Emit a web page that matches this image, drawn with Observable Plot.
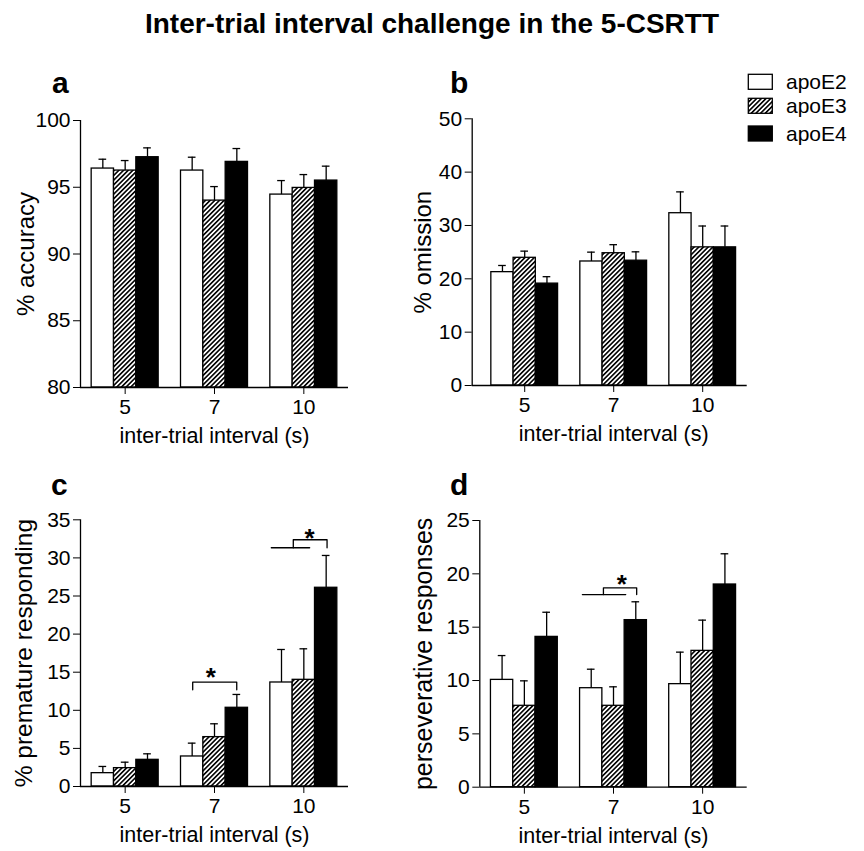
<!DOCTYPE html>
<html>
<head>
<meta charset="utf-8">
<script src="https://cdn.jsdelivr.net/npm/d3@7"></script>
<script src="https://cdn.jsdelivr.net/npm/@observablehq/plot@0.6"></script>
<style>
  html, body { margin: 0; padding: 0; background: #fff; }
  #root { position: relative; width: 864px; height: 851px; overflow: hidden; background: #fff;
          font-family: Arial, "Liberation Sans", Helvetica, sans-serif; }
  .panel { position: absolute; }
  #overlay { position: absolute; left: 0; top: 0; pointer-events: none; }
</style>
</head>
<body>
<svg width="0" height="0" style="position:absolute">
  <defs>
    <pattern id="hatch" patternUnits="userSpaceOnUse" width="3.3" height="3.3" patternTransform="rotate(-45)">
      <rect width="3.3" height="3.3" fill="white"></rect>
      <rect width="3.3" height="1.6" fill="black"></rect>
    </pattern>
  </defs>
</svg>
<div id="root"></div>
<script>
// ---------------- data ----------------
const intervals = ["5", "7", "10"];
const genotypes = ["apoE2", "apoE3", "apoE4"];

// rows: apoE2, apoE3, apoE4 ; columns: ITI 5, 7, 10 s
const accuracyMean = [[96.4, 96.25, 94.45], [96.25, 94.0, 94.95], [97.25, 96.9, 95.5]];
const accuracySem  = [[0.7, 1.0, 1.05], [0.75, 1.05, 1.0], [0.7, 1.0, 1.08]];

const omissionMean = [[21.25, 23.25, 32.3], [23.94, 24.8, 25.9], [19.1, 23.4, 25.9]];
const omissionSem  = [[1.25, 1.75, 4.0], [1.25, 1.6, 4.0], [1.3, 1.66, 4.0]];

const prematureMean = [[1.75, 3.94, 13.65], [2.41, 6.48, 14.0], [3.5, 10.33, 26.08]];
const prematureSem  = [[0.88, 1.75, 4.33], [0.78, 1.75, 4.07], [0.79, 1.75, 4.24]];

const persevMean = [[10.06, 9.28, 9.66], [7.63, 7.63, 12.78], [14.09, 15.66, 19.0]];
const persevSem  = [[2.28, 1.78, 3.0], [2.34, 1.78, 2.88], [2.31, 1.72, 2.88]];

const accuracyTicks = [80, 85, 90, 95, 100];
const omissionTicks = [0, 10, 20, 30, 40, 50];
const prematureTicks = [0, 5, 10, 15, 20, 25, 30, 35];
const persevTicks = [0, 5, 10, 15, 20, 25];

// significance brackets (x in interval-index units, y in data units)
const prematureBrackets = [
  {id: "c7", pts: [[0.756, 12.69], [0.756, 13.69], [1.249, 13.69], [1.249, 12.69]]},
  {id: "c10a", pts: [[1.636, 31.33], [2.065, 31.33]]},
  {id: "c10b", pts: [[1.882, 31.33], [1.882, 32.38], [2.26, 32.38], [2.26, 31.33]]}
];
const prematureStars = [{x: 0.96, y: 15.2}, {x: 2.065, y: 33.5}];
const persevBrackets = [
  {id: "d7a", pts: [[0.651, 18.06], [1.137, 18.06]]},
  {id: "d7b", pts: [[0.887, 18.06], [0.887, 18.69], [1.26, 18.69], [1.26, 18.06]]}
];
const persevStars = [{x: 1.092, y: 19.6}];

// ---------------- drawing ----------------
const FONT = 'Arial, "Liberation Sans", Helvetica, sans-serif';
const BAR = 0.25;     // bar width as share of group step
const CAP = 0.043;    // half cap width
const fills = ["white", "url(#hatch)", "black"];

function rows(means, sems) {
  const out = [];
  genotypes.forEach((g, j) => intervals.forEach((iv, i) => {
    out.push({g, j, i, mean: means[j][i], top: means[j][i] + sems[j][i],
              x1: i + (j - 1.5) * BAR, x2: i + (j - 0.5) * BAR, xc: i + (j - 1) * BAR});
  }));
  return out;
}

function panel(cfg) {
  const data = rows(cfg.means, cfg.sems);
  const base = cfg.yDomain[0];
  const marks = [];
  genotypes.forEach((g, j) => {
    marks.push(Plot.rect(data.filter(d => d.j === j), {
      x1: "x1", x2: "x2", y1: () => base, y2: "mean",
      fill: fills[j], stroke: "black", strokeWidth: 1.3
    }));
  });
  marks.push(Plot.ruleX(data, {x: "xc", y1: "mean", y2: "top", stroke: "black", strokeWidth: 1.3}));
  marks.push(Plot.ruleY(data, {y: "top", x1: d => d.xc - CAP, x2: d => d.xc + CAP, stroke: "black", strokeWidth: 1.3}));
  marks.push(Plot.ruleX([cfg.xDomain[0]], {stroke: "black", strokeWidth: 1.3}));
  marks.push(Plot.ruleY([base], {stroke: "black", strokeWidth: 1.3}));
  if (cfg.brackets) {
    const pts = cfg.brackets.flatMap(b => b.pts.map(p => ({id: b.id, x: p[0], y: p[1]})));
    marks.push(Plot.line(pts, {x: "x", y: "y", z: "id", stroke: "black", strokeWidth: 1.3}));
  }
  if (cfg.stars) {
    marks.push(Plot.text(cfg.stars, {x: "x", y: "y", text: () => "*", fontSize: 26, fontWeight: "bold",
                                     textAnchor: "middle", lineAnchor: "middle", dy: 7}));
  }
  marks.push(Plot.text([cfg.ylabel], {frameAnchor: "left", rotate: -90, dx: cfg.ylabelX - cfg.marginLeft,
                                      textAnchor: "middle", lineAnchor: "middle",
                                      fontSize: cfg.ylabelSize, text: d => d}));
  marks.push(Plot.text([{x: 1, t: "inter-trial interval (s)"}], {x: "x", text: "t", frameAnchor: "bottom",
                                      textAnchor: "middle", lineAnchor: "middle",
                                      dy: 49, fontSize: 21.5}));
  return Plot.plot({
    width: cfg.width, height: cfg.height,
    marginLeft: cfg.marginLeft, marginRight: cfg.marginRight,
    marginTop: cfg.marginTop, marginBottom: cfg.marginBottom,
    style: {fontFamily: FONT, fontSize: "21px", color: "black", background: "transparent", overflow: "visible"},
    x: {type: "linear", domain: cfg.xDomain, ticks: [0, 1, 2], tickFormat: i => intervals[i],
        tickSize: 7, tickPadding: 5, label: null},
    y: {domain: cfg.yDomain, ticks: cfg.yTicks, tickSize: 7, tickPadding: 3, label: null},
    marks
  });
}

const root = document.getElementById("root");
function place(cfg) {
  // absolute geometry -> margins
  cfg.marginLeft = cfg.axisLeft - cfg.left;
  cfg.marginRight = cfg.left + cfg.width - cfg.axisRight;
  cfg.marginTop = cfg.axisTop - cfg.top;
  cfg.marginBottom = cfg.top + cfg.height - cfg.axisBottom;
  const el = panel(cfg);
  const wrap = document.createElement("div");
  wrap.className = "panel";
  wrap.style.left = cfg.left + "px";
  wrap.style.top = cfg.top + "px";
  wrap.appendChild(el);
  root.appendChild(wrap);
}

place({left: 0, top: 50, width: 400, height: 400, axisLeft: 80, axisRight: 348, axisTop: 120, axisBottom: 387,
       xDomain: [-0.5, 2.5], yDomain: [80, 100], yTicks: accuracyTicks,
       means: accuracyMean, sems: accuracySem, ylabel: "% accuracy", ylabelX: 26, ylabelSize: 24});
place({left: 400, top: 50, width: 464, height: 400, axisLeft: 471.7, axisRight: 746.7, axisTop: 118.3, axisBottom: 385,
       xDomain: [-0.59, 2.5], yDomain: [0, 50], yTicks: omissionTicks,
       means: omissionMean, sems: omissionSem, ylabel: "% omission", ylabelX: 23, ylabelSize: 24});
place({left: 0, top: 450, width: 400, height: 401, axisLeft: 80, axisRight: 348, axisTop: 519.3, axisBottom: 786,
       xDomain: [-0.5, 2.5], yDomain: [0, 35], yTicks: prematureTicks,
       means: prematureMean, sems: prematureSem, ylabel: "% premature responding", ylabelX: 24, ylabelSize: 24.5,
       brackets: prematureBrackets, stars: prematureStars});
place({left: 400, top: 450, width: 464, height: 401, axisLeft: 479.3, axisRight: 746.7, axisTop: 520, axisBottom: 786.7,
       xDomain: [-0.5, 2.5], yDomain: [0, 25], yTicks: persevTicks,
       means: persevMean, sems: persevSem, ylabel: "perseverative responses", ylabelX: 23, ylabelSize: 25,
       brackets: persevBrackets, stars: persevStars});

// ---------------- title, panel letters, legend ----------------
const ov = d3.select(root).append("svg").attr("id", "overlay").attr("width", 864).attr("height", 851)
  .style("font-family", FONT);
ov.append("text").attr("x", 432).attr("y", 33).attr("text-anchor", "middle")
  .attr("font-size", 28).attr("font-weight", "bold").text("Inter-trial interval challenge in the 5-CSRTT");
[["a", 52, 93], ["b", 450, 93], ["c", 51, 495], ["d", 450, 495]].forEach(([t, x, y]) =>
  ov.append("text").attr("x", x).attr("y", y).attr("font-size", 30).attr("font-weight", "bold").text(t));
const legendY = [74.3, 98.3, 126];
genotypes.forEach((g, j) => {
  ov.append("rect").attr("x", 748.3).attr("y", legendY[j]).attr("width", 24).attr("height", 15)
    .attr("fill", fills[j]).attr("stroke", "black").attr("stroke-width", 1.3);
  ov.append("text").attr("x", 786).attr("y", legendY[j] + 7.5).attr("dy", "0.35em")
    .attr("font-size", 21).text(g);
});
</script>
</body>
</html>
